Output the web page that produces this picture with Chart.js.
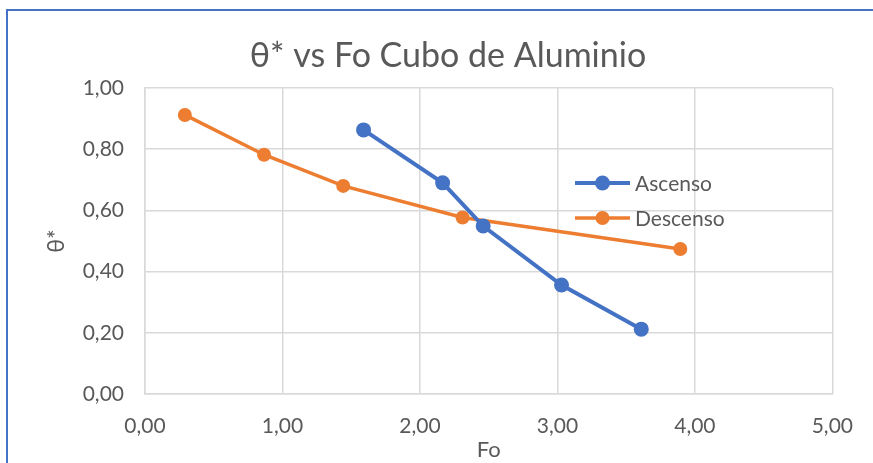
<!DOCTYPE html>
<html>
<head>
<meta charset="utf-8">
<script src="https://cdn.jsdelivr.net/npm/chart.js@4.4.1/dist/chart.umd.min.js"></script>
<style>
  html, body { margin: 0; padding: 0; background: #fff; }
  #chart { display: block; }
</style>
</head>
<body>
<canvas id="chart" width="873" height="463"></canvas>
<script>
// datos
const ascensoFo = [1.59, 2.165, 2.46, 3.03, 3.61];
const ascensoTheta = [0.863, 0.690, 0.549, 0.356, 0.212];
const descensoFo = [0.29, 0.866, 1.442, 2.31, 3.894];
const descensoTheta = [0.912, 0.782, 0.680, 0.577, 0.474];
const seriesNames = ['Ascenso', 'Descenso'];
const chartTitle = 'θ* vs Fo Cubo de Aluminio';

const FONT = 'Lato, "Open Sans", sans-serif';
const fmt = v => Number(v).toFixed(2).replace('.', ',');

const toPoints = (xs, ys) => xs.map((x, i) => ({ x, y: ys[i] }));

// marco azul + titulo (centrado como en Excel, no sobre el area util)
const framePlugin = {
  id: 'frame',
  afterDraw(chart) {
    const ctx = chart.ctx;
    ctx.save();
    ctx.strokeStyle = '#4472c4';
    ctx.lineWidth = 2;
    ctx.strokeRect(7, 10, chart.width + 10, chart.height + 10);

    ctx.fillStyle = '#595959';
    ctx.font = '34px ' + FONT;
    ctx.textAlign = 'center';
    ctx.textBaseline = 'alphabetic';
    ctx.fillText(chartTitle, 448, 67);
    ctx.restore();
  }
};

// leyenda dentro del area del grafico
const insideLegend = {
  id: 'insideLegend',
  afterDatasetsDraw(chart) {
    const ctx = chart.ctx;
    const x0 = 575, y0 = 183, gap = 35;
    ctx.save();
    chart.data.datasets.forEach((ds, i) => {
      const y = y0 + i * gap;
      ctx.strokeStyle = ds.borderColor;
      ctx.lineWidth = ds.borderWidth;
      ctx.beginPath();
      ctx.moveTo(x0, y);
      ctx.lineTo(x0 + 55, y);
      ctx.stroke();
      ctx.fillStyle = ds.backgroundColor;
      ctx.beginPath();
      ctx.arc(x0 + 27.5, y, ds.pointRadius, 0, Math.PI * 2);
      ctx.fill();
      ctx.fillStyle = '#595959';
      ctx.font = '21px ' + FONT;
      ctx.textBaseline = 'middle';
      ctx.fillText(ds.label, x0 + 60, y + 1);
    });
    ctx.restore();
  }
};

new Chart(document.getElementById('chart'), {
  type: 'scatter',
  data: {
    datasets: [
      {
        label: seriesNames[0],
        data: toPoints(ascensoFo, ascensoTheta),
        showLine: true,
        borderColor: '#4472c4',
        backgroundColor: '#4472c4',
        borderWidth: 4,
        pointRadius: 7.5,
        pointBorderWidth: 0,
        pointHoverRadius: 7.5
      },
      {
        label: seriesNames[1],
        data: toPoints(descensoFo, descensoTheta),
        showLine: true,
        borderColor: '#ed7d31',
        backgroundColor: '#ed7d31',
        borderWidth: 3.5,
        pointRadius: 7,
        pointBorderWidth: 0,
        pointHoverRadius: 7
      }
    ]
  },
  options: {
    responsive: false,
    animation: false,
    layout: { padding: { left: 0, right: 39, top: 88, bottom: 0 } },
    plugins: {
      legend: { display: false },
      tooltip: { enabled: false },
      title: { display: false }
    },
    scales: {
      x: {
        type: 'linear',
        min: 0,
        max: 5,
        afterFit: s => { s.height = 69; },
        ticks: {
          stepSize: 1,
          color: '#595959',
          padding: 20,
          font: { family: FONT, size: 21 },
          callback: fmt
        },
        grid: { color: '#d9d9d9', lineWidth: 1.5, drawTicks: false },
        border: { color: '#d9d9d9', width: 1.5 },
        title: {
          display: true,
          text: 'Fo',
          color: '#595959',
          font: { family: FONT, size: 22 },
          padding: { top: 0, bottom: 0 }
        }
      },
      y: {
        min: 0,
        max: 1,
        afterFit: s => { s.width = 145; },
        ticks: {
          stepSize: 0.2,
          color: '#595959',
          padding: 21,
          font: { family: FONT, size: 21 },
          callback: fmt
        },
        grid: { color: '#d9d9d9', lineWidth: 1.5, drawTicks: false },
        border: { color: '#d9d9d9', width: 1.5 },
        title: {
          display: true,
          text: 'θ*',
          color: '#595959',
          font: { family: FONT, size: 23 },
          padding: { top: 43, bottom: 0 }
        }
      }
    }
  },
  plugins: [insideLegend, framePlugin]
});
</script>
</body>
</html>
